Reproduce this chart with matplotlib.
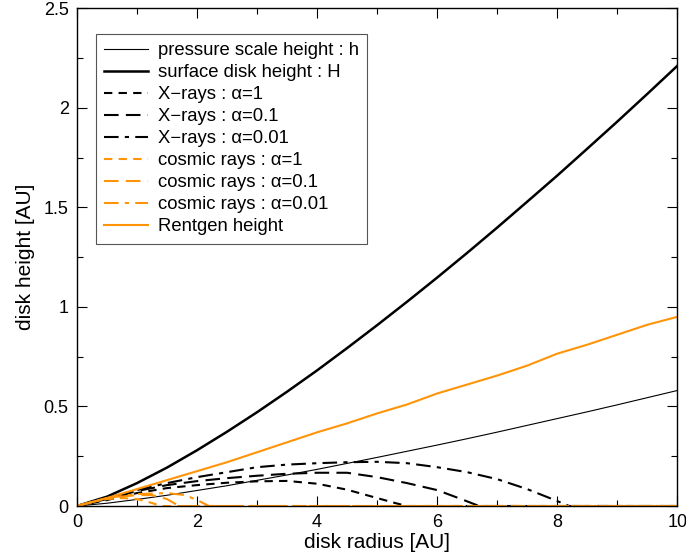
import numpy as np
import matplotlib
matplotlib.use("Agg")
import matplotlib.pyplot as plt
from matplotlib.ticker import MultipleLocator, FuncFormatter

plt.rcParams['font.family'] = ['Liberation Sans', 'DejaVu Sans']

# radius grid (AU) for the smooth curves
r = [0, 0.5, 1, 1.5, 2, 2.5, 3, 3.5, 4, 4.5, 5, 5.5, 6, 6.5, 7, 7.5, 8, 8.5, 9, 9.5, 10]
h_scale = [0, 0.014, 0.033, 0.054, 0.078, 0.102, 0.129, 0.156, 0.184, 0.214, 0.244,
           0.275, 0.306, 0.338, 0.371, 0.405, 0.439, 0.473, 0.508, 0.544, 0.58]
H_surf = [0, 0.047, 0.115, 0.193, 0.28, 0.373, 0.471, 0.574, 0.681, 0.793, 0.908,
          1.026, 1.147, 1.271, 1.398, 1.528, 1.659, 1.794, 1.93, 2.069, 2.21]
rentgen = [0, 0.04, 0.085, 0.13, 0.175, 0.22, 0.27, 0.32, 0.37, 0.415, 0.465,
           0.51, 0.565, 0.61, 0.655, 0.705, 0.765, 0.81, 0.86, 0.91, 0.95]

# X-rays
rx1 = [0, 0.5, 1, 1.5, 2, 2.5, 3, 3.5, 4, 4.5, 5, 5.3, 5.5, 10]
x_a1 = [0, 0.03, 0.065, 0.09, 0.105, 0.117, 0.124, 0.126, 0.112, 0.082, 0.04, 0.015, 0, 0]
rx2 = [0, 0.5, 1, 1.5, 2, 2.5, 3, 3.5, 4, 4.5, 5, 5.5, 6, 6.4, 6.7, 10]
x_a01 = [0, 0.035, 0.075, 0.105, 0.125, 0.14, 0.152, 0.162, 0.167, 0.167, 0.145,
         0.115, 0.08, 0.035, 0, 0]
rx3 = [0, 0.5, 1, 1.5, 2, 2.5, 3, 3.5, 4, 4.5, 5, 5.5, 6, 6.5, 7, 7.5, 8, 8.2, 10]
x_a001 = [0, 0.04, 0.08, 0.115, 0.145, 0.17, 0.195, 0.208, 0.215, 0.22, 0.222,
          0.215, 0.195, 0.17, 0.135, 0.085, 0.025, 0, 0]

# cosmic rays
rc1 = [0, 0.25, 0.5, 0.75, 1, 1.25, 1.4, 10]
c_a1 = [0, 0.02, 0.035, 0.04, 0.035, 0.015, 0, 0]
rc2 = [0, 0.5, 1, 1.25, 1.5, 1.7, 10]
c_a01 = [0, 0.04, 0.055, 0.055, 0.035, 0, 0]
rc3 = [0, 0.5, 1, 1.5, 1.8, 2.0, 2.2, 10]
c_a001 = [0, 0.04, 0.06, 0.065, 0.055, 0.03, 0, 0]

orange = '#ff9408'

fig = plt.figure(figsize=(6.86, 5.6), dpi=100)
ax = fig.add_axes([0.1122, 0.0964, 0.875, 0.889])

ax.plot(r, h_scale, color='black', lw=0.8, label='pressure scale height : h')
ax.plot(r, H_surf, color='black', lw=1.8, label='surface disk height : H')
ax.plot(rx1, x_a1, color='black', lw=1.5, dashes=(4, 3), label='X\u2212rays : \u03b1=1')
ax.plot(rx2, x_a01, color='black', lw=1.5, dashes=(7, 3.5), label='X\u2212rays : \u03b1=0.1')
ax.plot(rx3, x_a001, color='black', lw=1.5, dashes=(7, 3, 2, 3), label='X\u2212rays : \u03b1=0.01')
ax.plot(rc1, c_a1, color=orange, lw=1.5, dashes=(4, 3), label='cosmic rays : \u03b1=1')
ax.plot(rc2, c_a01, color=orange, lw=1.5, dashes=(7, 3.5), label='cosmic rays : \u03b1=0.1')
ax.plot(rc3, c_a001, color=orange, lw=1.5, dashes=(7, 3, 2, 3), label='cosmic rays : \u03b1=0.01')
ax.plot(r, rentgen, color=orange, lw=1.5, label='Rentgen height')

ax.set_xlim(0, 10)
ax.set_ylim(0, 2.5)
ax.xaxis.set_major_locator(MultipleLocator(2))
ax.xaxis.set_minor_locator(MultipleLocator(1))
ax.yaxis.set_major_locator(MultipleLocator(0.5))
ax.yaxis.set_minor_locator(MultipleLocator(0.25))
ax.yaxis.set_major_formatter(FuncFormatter(lambda v, p: '%g' % v))
ax.tick_params(which='both', direction='in', top=True, right=True, labelsize=13, pad=6)
ax.tick_params(which='major', length=7, width=0.8)
ax.tick_params(which='minor', length=4, width=0.8)
for s in ax.spines.values():
    s.set_linewidth(1.0)

ax.set_xlabel('disk radius [AU]', fontsize=15, labelpad=1)
ax.set_ylabel('disk height [AU]', fontsize=15, labelpad=6)

leg = ax.legend(loc='upper left', bbox_to_anchor=(0.032, 0.948), fontsize=13.3,
                fancybox=False, framealpha=1, edgecolor='#555555',
                handlelength=2.35, handletextpad=0.55, labelspacing=0.27,
                borderpad=0.45, borderaxespad=0)
leg.get_frame().set_linewidth(0.8)

fig.savefig('out.png', dpi=100)
